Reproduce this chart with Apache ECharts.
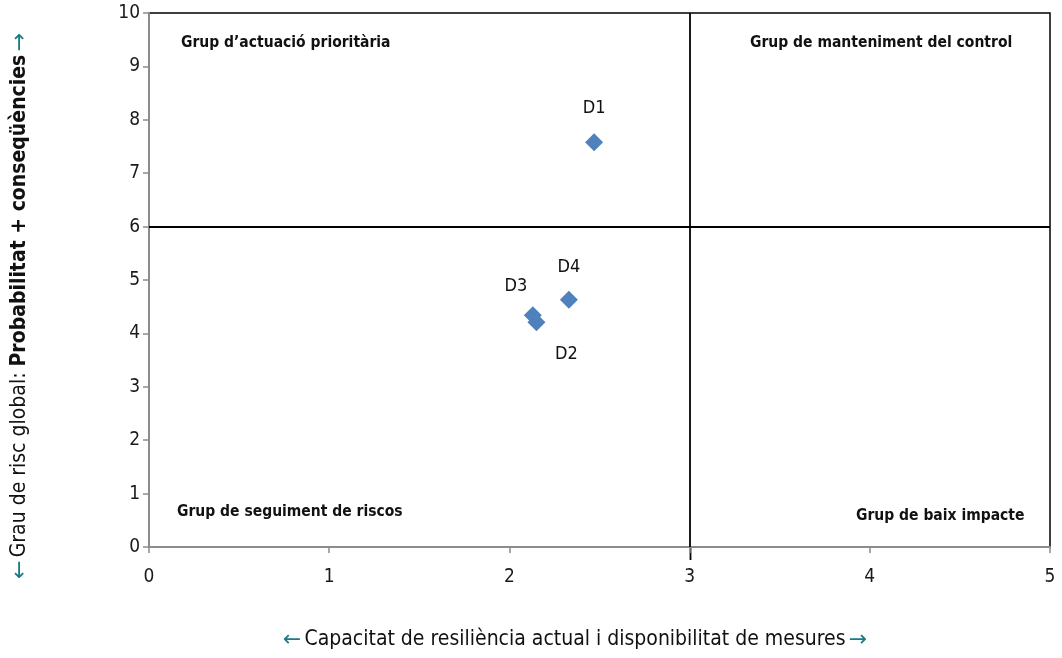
<!DOCTYPE html>
<html><head><meta charset="utf-8">
<script src="https://cdn.jsdelivr.net/npm/echarts@6/dist/echarts.min.js"></script>
<style>html,body{margin:0;padding:0;background:#fff}#c{width:1062px;height:658px}</style>
</head><body><div id="c"></div>
<script>
const names = ['D1','D2','D3','D4'];
const xVals = [2.47, 2.15, 2.13, 2.33];
const yVals = [7.58, 4.21, 4.34, 4.63];
const xTicks = [0,1,2,3,4,5];
const yTicks = [0,1,2,3,4,5,6,7,8,9,10];
const quadrantLabels = ['Grup d\u2019actuació prioritària','Grup de manteniment del control','Grup de seguiment de riscos','Grup de baix impacte'];
const xThreshold = 3, yThreshold = 6;
const xTitle = 'Capacitat de resiliència actual i disponibilitat de mesures';
const yTitleA = 'Grau de risc global: ';
const yTitleB = 'Probabilitat + conseqüències';

const FONT = '"DejaVu Sans Condensed","Liberation Sans Narrow",sans-serif';
const labelPos = {D1:[0,-34], D2:[30,32], D3:[-17,-29], D4:[0,-32]};
const arrowStyle = {fontFamily:'DejaVu Sans',fontSize:22,fill:'#1a7a86',color:'#1a7a86'};

const chart = echarts.init(document.getElementById('c'));
chart.setOption({
  animation:false,
  grid:{left:149,right:12,top:13,bottom:111,show:true,borderColor:'#000',borderWidth:1.5},
  xAxis:{type:'value',min:0,max:5,interval:1,
    axisLine:{show:true,lineStyle:{color:'#8c8c8c',width:2}},
    axisTick:{show:true,length:6,lineStyle:{color:'#8c8c8c',width:1.5}},
    splitLine:{show:false},
    axisLabel:{fontFamily:FONT,fontSize:19,color:'#1a1a1a',margin:21,formatter:v=>xTicks.includes(v)?String(v):''}},
  yAxis:{type:'value',min:0,max:10,interval:1,
    axisLine:{show:true,lineStyle:{color:'#8c8c8c',width:2}},
    axisTick:{show:true,length:6,lineStyle:{color:'#8c8c8c',width:1.5}},
    splitLine:{show:false},
    axisLabel:{fontFamily:FONT,fontSize:19,color:'#1a1a1a',margin:9,formatter:v=>yTicks.includes(v)?String(v):''}},
  series:[{
    type:'scatter',symbol:'diamond',symbolSize:18,
    itemStyle:{color:'#4f81bd',opacity:1},
    data:names.map((n,i)=>({name:n,value:[xVals[i],yVals[i]],
      label:{show:true,formatter:n,position:'inside',offset:labelPos[n],fontFamily:FONT,fontSize:18,color:'#111',textBorderWidth:0}})),
    markLine:{silent:true,symbol:'none',label:{show:false},
      lineStyle:{color:'#000',width:1.8,type:'solid',opacity:1},
      data:[
        [{coord:[0,yThreshold]},{coord:[5,yThreshold]}],
        [{coord:[xThreshold,0]},{coord:[xThreshold,10]}]
      ]}
  }],
  graphic:[
    {type:'text',left:181,top:35,style:{text:quadrantLabels[0],font:'bold 15.5px '+FONT,fill:'#111'}},
    {type:'text',left:750,top:35,style:{text:quadrantLabels[1],font:'bold 15.5px '+FONT,fill:'#111'}},
    {type:'text',left:177,top:504,style:{text:quadrantLabels[2],font:'bold 15.5px '+FONT,fill:'#111'}},
    {type:'text',left:856,top:508,style:{text:quadrantLabels[3],font:'bold 15.5px '+FONT,fill:'#111'}},
    {type:'line',shape:{x1:690.5,y1:547,x2:690.5,y2:560},style:{stroke:'#000',lineWidth:1.8}},
    {type:'text',x:575,y:640,style:{
      text:'{a|\u2190} {t|'+xTitle+'} {a|\u2192}',align:'center',verticalAlign:'middle',
      rich:{a:arrowStyle,t:{fontFamily:FONT,fontSize:21,fill:'#111',color:'#111'}}}},
    {type:'text',x:20,y:306,rotation:Math.PI/2,style:{
      text:'{a|\u2190} {t|'+yTitleA+'}{b|'+yTitleB+'} {a|\u2192}',align:'center',verticalAlign:'middle',
      rich:{a:arrowStyle,
            t:{fontFamily:FONT,fontSize:21,fill:'#111',color:'#111'},
            b:{fontFamily:FONT,fontSize:21,fontWeight:'bold',fill:'#111',color:'#111'}}}}
  ]
});
</script></body></html>
